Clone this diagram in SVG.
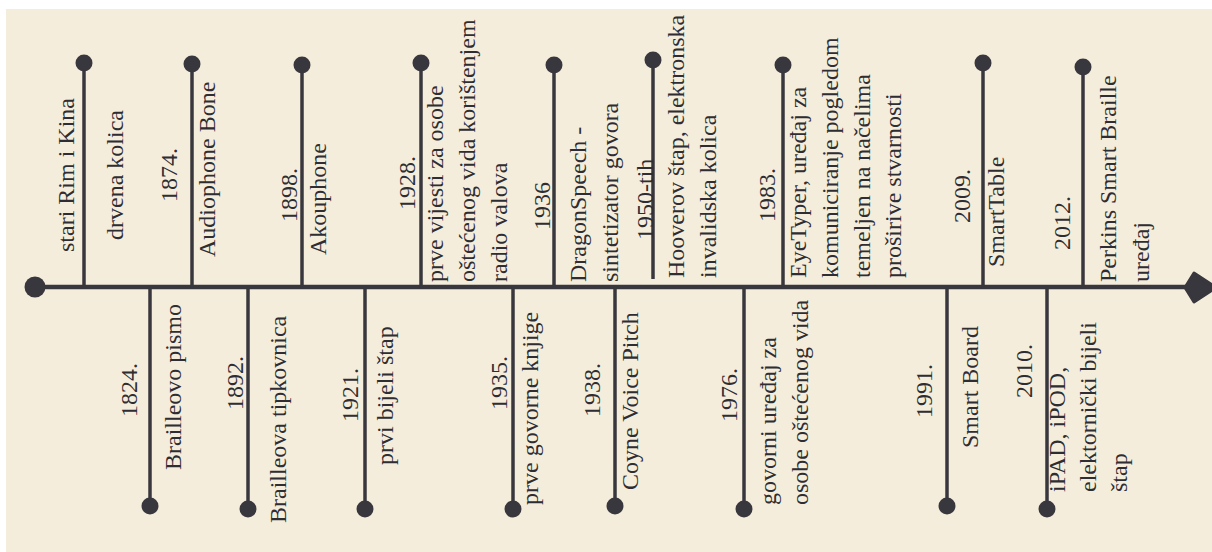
<svg xmlns="http://www.w3.org/2000/svg" width="1212" height="552" viewBox="0 0 1212 552">
<style>
.bg{fill:#f5eddc}
.ax{stroke:#38373d;stroke-width:4.5;fill:none}
.st{stroke:#38373d;stroke-width:3.5;fill:none}
.dot{fill:#38373d}
text{font-family:"Liberation Serif","Times New Roman",serif;font-size:24px;fill:#2e2d33}
</style>
<rect class="bg" x="6" y="9" width="1206" height="543"/>
<g id="connectors">
<line class="ax" x1="35" y1="287" x2="1192" y2="287"/>
<path class="dot" d="M1185,287.5 L1194,273 L1216,287.5 L1194,302 Z" stroke="#38373d" stroke-width="3" stroke-linejoin="round"/>
<line class="st" x1="84" y1="63" x2="84" y2="287"/>
<line class="st" x1="192" y1="64" x2="192" y2="287"/>
<line class="st" x1="302" y1="65" x2="302" y2="287"/>
<line class="st" x1="421" y1="63" x2="421" y2="287"/>
<line class="st" x1="554" y1="65" x2="554" y2="287"/>
<line class="st" x1="653" y1="60" x2="653" y2="279"/>
<line class="st" x1="783" y1="65" x2="783" y2="287"/>
<line class="st" x1="983" y1="63" x2="983" y2="287"/>
<line class="st" x1="1083" y1="67" x2="1083" y2="287"/>
<line class="st" x1="150" y1="287" x2="150" y2="506"/>
<line class="st" x1="248" y1="287" x2="248" y2="509"/>
<line class="st" x1="365" y1="287" x2="365" y2="509"/>
<line class="st" x1="513" y1="287" x2="513" y2="509"/>
<line class="st" x1="615" y1="287" x2="615" y2="506"/>
<line class="st" x1="744" y1="287" x2="744" y2="509"/>
<line class="st" x1="947" y1="287" x2="947" y2="506"/>
<line class="st" x1="1047" y1="287" x2="1047" y2="509"/>
</g>
<g id="start"><circle class="dot" cx="35" cy="287" r="10.5"/></g>
<g id="n-stari">
<circle class="dot" cx="84" cy="63" r="8.5"/>
<text transform="translate(74,252) rotate(-90)">stari Rim i Kina</text>
<text transform="translate(123,240) rotate(-90)">drvena kolica</text>
</g>
<g id="n-1824">
<circle class="dot" cx="150" cy="506" r="8.5"/>
<text transform="translate(137,417) rotate(-90)">1824.</text>
<text transform="translate(181,470) rotate(-90)">Brailleovo pismo</text>
</g>
<g id="n-1874">
<circle class="dot" cx="192" cy="64" r="8.5"/>
<text transform="translate(177,202) rotate(-90)">1874.</text>
<text transform="translate(214.5,257) rotate(-90)">Audiophone Bone</text>
</g>
<g id="n-1892">
<circle class="dot" cx="248" cy="509" r="8.5"/>
<text transform="translate(243,410) rotate(-90)">1892.</text>
<text transform="translate(286,523) rotate(-90)">Brailleova tipkovnica</text>
</g>
<g id="n-1898">
<circle class="dot" cx="302" cy="65" r="8.5"/>
<text transform="translate(297,222) rotate(-90)">1898.</text>
<text transform="translate(326,255) rotate(-90)">Akouphone</text>
</g>
<g id="n-1921">
<circle class="dot" cx="365" cy="509" r="8.5"/>
<text transform="translate(358,422) rotate(-90)">1921.</text>
<text transform="translate(393,465) rotate(-90)">prvi bijeli štap</text>
</g>
<g id="n-1928">
<circle class="dot" cx="421" cy="63" r="8.5"/>
<text transform="translate(415,210) rotate(-90)">1928.</text>
<text transform="translate(442.5,282) rotate(-90)">prve vijesti za osobe</text>
<text transform="translate(474.5,282) rotate(-90)">oštećenog vida korištenjem</text>
<text transform="translate(506.5,282) rotate(-90)">radio valova</text>
</g>
<g id="n-1935">
<circle class="dot" cx="513" cy="509" r="8.5"/>
<text transform="translate(507,410) rotate(-90)">1935.</text>
<text transform="translate(538,505) rotate(-90)">prve govorne knjige</text>
</g>
<g id="n-1936">
<circle class="dot" cx="554" cy="65" r="8.5"/>
<text transform="translate(550,230) rotate(-90)">1936</text>
<text transform="translate(586,282) rotate(-90)">DragonSpeech -</text>
<text transform="translate(618,282) rotate(-90)">sintetizator govora</text>
</g>
<g id="n-1938">
<circle class="dot" cx="615" cy="506" r="8.5"/>
<text transform="translate(600,417) rotate(-90)">1938.</text>
<text transform="translate(638,490) rotate(-90)">Coyne Voice Pitch</text>
</g>
<g id="n-1950">
<circle class="dot" cx="653" cy="60" r="8.5"/>
<text transform="translate(653,240) rotate(-90)">1950-tih</text>
<text transform="translate(684,278) rotate(-90)">Hooverov štap, elektronska</text>
<text transform="translate(716,278) rotate(-90)">invalidska kolica</text>
</g>
<g id="n-1976">
<circle class="dot" cx="744" cy="509" r="8.5"/>
<text transform="translate(737,422) rotate(-90)">1976.</text>
<text transform="translate(776,505) rotate(-90)">govorni uređaj za</text>
<text transform="translate(808,505) rotate(-90)">osobe oštećenog vida</text>
</g>
<g id="n-1983">
<circle class="dot" cx="783" cy="65" r="8.5"/>
<text transform="translate(775,222) rotate(-90)">1983.</text>
<text transform="translate(806,278) rotate(-90)">EyeTyper, uređaj za</text>
<text transform="translate(838,278) rotate(-90)">komuniciranje pogledom</text>
<text transform="translate(870,278) rotate(-90)">temeljen na načelima</text>
<text transform="translate(901,278) rotate(-90)">proširive stvarnosti</text>
</g>
<g id="n-1991">
<circle class="dot" cx="947" cy="506" r="8.5"/>
<text transform="translate(932,418) rotate(-90)">1991.</text>
<text transform="translate(978,448) rotate(-90)">Smart Board</text>
</g>
<g id="n-2009">
<circle class="dot" cx="983" cy="63" r="8.5"/>
<text transform="translate(970,223) rotate(-90)">2009.</text>
<text transform="translate(1004,267) rotate(-90)">SmartTable</text>
</g>
<g id="n-2010">
<circle class="dot" cx="1047" cy="509" r="8.5"/>
<text transform="translate(1032,398) rotate(-90)">2010.</text>
<text transform="translate(1065,492) rotate(-90)">iPAD, iPOD,</text>
<text transform="translate(1096,492) rotate(-90)">elektornički bijeli</text>
<text transform="translate(1127,492) rotate(-90)">štap</text>
</g>
<g id="n-2012">
<circle class="dot" cx="1083" cy="67" r="8.5"/>
<text transform="translate(1070,250) rotate(-90)">2012.</text>
<text transform="translate(1116,282) rotate(-90)">Perkins Smart Braille</text>
<text transform="translate(1149,282) rotate(-90)">uređaj</text>
</g>
</svg>
